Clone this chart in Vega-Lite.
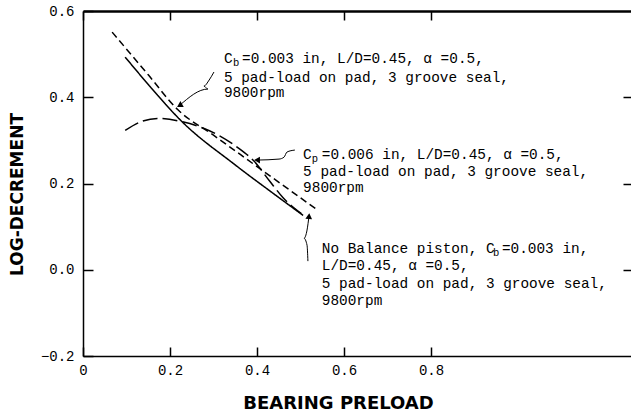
{
  "$schema": "https://vega.github.io/schema/vega-lite/v6.json",
  "width": 549,
  "height": 345,
  "autosize": {"type": "none"},
  "padding": {"left": 83, "top": 11, "right": 0, "bottom": 59},
  "background": "white",
  "config": {
    "view": {"stroke": null},
    "axis": {"grid": false, "domainColor": "black", "tickColor": "black", "labelColor": "black", "titleColor": "black", "domainWidth": 1.5, "tickWidth": 1.5}
  },
  "datasets": {
    "curves": [
      {"series": "solid", "x": 0.097, "y": 0.493},
      {"series": "solid", "x": 0.16, "y": 0.418},
      {"series": "solid", "x": 0.224, "y": 0.347},
      {"series": "solid", "x": 0.35, "y": 0.243},
      {"series": "solid", "x": 0.44, "y": 0.175},
      {"series": "solid", "x": 0.506, "y": 0.126},
      {"series": "short", "x": 0.067, "y": 0.551},
      {"series": "short", "x": 0.15, "y": 0.452},
      {"series": "short", "x": 0.217, "y": 0.372},
      {"series": "short", "x": 0.3, "y": 0.312},
      {"series": "short", "x": 0.41, "y": 0.232},
      {"series": "short", "x": 0.541, "y": 0.137},
      {"series": "long", "x": 0.097, "y": 0.323},
      {"series": "long", "x": 0.13, "y": 0.342},
      {"series": "long", "x": 0.171, "y": 0.351},
      {"series": "long", "x": 0.229, "y": 0.343},
      {"series": "long", "x": 0.277, "y": 0.328},
      {"series": "long", "x": 0.315, "y": 0.31},
      {"series": "long", "x": 0.355, "y": 0.284},
      {"series": "long", "x": 0.393, "y": 0.252},
      {"series": "long", "x": 0.428, "y": 0.207},
      {"series": "long", "x": 0.46, "y": 0.167},
      {"series": "long", "x": 0.502, "y": 0.13}
    ],
    "leaders": [
      {"lead": 1, "k": 1, "x": 0.301, "y": 0.4585},
      {"lead": 1, "k": 2, "x": 0.29, "y": 0.44},
      {"lead": 1, "k": 3, "x": 0.278, "y": 0.426},
      {"lead": 1, "k": 4, "x": 0.287, "y": 0.419},
      {"lead": 1, "k": 5, "x": 0.222, "y": 0.381},
      {"lead": 2, "k": 1, "x": 0.487, "y": 0.2775},
      {"lead": 2, "k": 2, "x": 0.469, "y": 0.273},
      {"lead": 2, "k": 3, "x": 0.462, "y": 0.261},
      {"lead": 2, "k": 4, "x": 0.4506, "y": 0.2566},
      {"lead": 2, "k": 5, "x": 0.4, "y": 0.2543},
      {"lead": 3, "k": 1, "x": 0.517, "y": 0.02},
      {"lead": 3, "k": 2, "x": 0.515, "y": 0.057},
      {"lead": 3, "k": 3, "x": 0.508, "y": 0.073},
      {"lead": 3, "k": 4, "x": 0.515, "y": 0.092},
      {"lead": 3, "k": 5, "x": 0.5195, "y": 0.1244}
    ],
    "heads": [
      {"lead": 1, "x": 0.222, "y": 0.381},
      {"lead": 2, "x": 0.4, "y": 0.2543},
      {"lead": 3, "x": 0.5195, "y": 0.1244}
    ],
    "notes": [
      {"x": 0.324, "y": 0.479, "t": "C"},
      {"x": 0.3655, "y": 0.479, "t": "=0.003 in, L/D=0.45, α =0.5,"},
      {"x": 0.324, "y": 0.435, "t": "5 pad-load on pad, 3 groove seal,"},
      {"x": 0.324, "y": 0.4, "t": "9800rpm"},
      {"x": 0.506, "y": 0.2566, "t": "C"},
      {"x": 0.549, "y": 0.2566, "t": "=0.006 in, L/D=0.45, α =0.5,"},
      {"x": 0.506, "y": 0.2172, "t": "5 pad-load on pad, 3 groove seal,"},
      {"x": 0.506, "y": 0.18, "t": "9800rpm"},
      {"x": 0.549, "y": 0.0385, "t": "No Balance piston, C"},
      {"x": 0.963, "y": 0.0385, "t": "=0.003 in,"},
      {"x": 0.549, "y": -0.001, "t": "L/D=0.45, α =0.5,"},
      {"x": 0.549, "y": -0.0427, "t": "5 pad-load on pad, 3 groove seal,"},
      {"x": 0.549, "y": -0.082, "t": "9800rpm"}
    ],
    "subs": [
      {"x": 0.345, "y": 0.479, "t": "b"},
      {"x": 0.526, "y": 0.2566, "t": "p"},
      {"x": 0.9425, "y": 0.0385, "t": "b"}
    ]
  },
  "resolve": {"scale": {"x": "shared", "y": "shared"}, "axis": {"x": "independent", "y": "independent"}},
  "layer": [
    {
      "data": {"name": "curves"},
      "mark": {"type": "line", "interpolate": "monotone", "strokeWidth": 1.5, "color": "black"},
      "encoding": {
        "x": {"field": "x", "type": "quantitative",
          "scale": {"domain": [0, 1.262], "nice": false, "zero": false},
          "axis": {"orient": "bottom", "values": [0, 0.2, 0.4, 0.6, 0.8], "tickSize": -9, "labelPadding": 16,
            "labelExpr": "datum.value == 0 ? '0' : format(datum.value, '.1f')",
            "labelFont": "Liberation Mono", "labelFontSize": 14, "labelFlush": false,
            "title": "BEARING PRELOAD", "titleFont": "DejaVu Sans", "titleFontWeight": "bold", "titleFontSize": 18,
            "titleX": 255, "titleY": 52, "titleAlign": "center", "titleBaseline": "alphabetic"}},
        "y": {"field": "y", "type": "quantitative",
          "scale": {"domain": [-0.2, 0.6], "nice": false, "zero": false},
          "axis": {"orient": "left", "values": [-0.2, 0, 0.2, 0.4, 0.6], "format": ".1f", "tickSize": -10, "labelPadding": 19,
            "labelFont": "Liberation Mono", "labelFontSize": 14, "labelFlush": false,
            "title": "LOG-DECREMENT", "titleFont": "DejaVu Sans", "titleFontWeight": "bold", "titleFontSize": 17,
            "titleX": -61, "titleY": 183, "titleAlign": "center", "titleBaseline": "alphabetic", "titleAngle": -90}},
        "strokeDash": {"field": "series", "type": "nominal",
          "scale": {"domain": ["solid", "short", "long"], "range": [[1, 0], [7, 4], [15, 5]]}, "legend": null}
      }
    },
    {
      "data": {"name": "leaders"},
      "mark": {"type": "line", "strokeWidth": 1, "color": "black", "interpolate": "monotone"},
      "encoding": {
        "x": {"field": "x", "type": "quantitative",
          "scale": {"domain": [0, 1.262], "nice": false, "zero": false},
          "axis": {"orient": "top", "values": [0, 0.2, 0.4, 0.6, 0.8], "tickSize": -9, "labels": false, "title": null, "domainWidth": 2.5}},
        "y": {"field": "y", "type": "quantitative",
          "scale": {"domain": [-0.2, 0.6], "nice": false, "zero": false},
          "axis": {"orient": "right", "values": [0, 0.2, 0.4], "tickSize": -9, "labels": false, "title": null, "domain": false}},
        "detail": {"field": "lead", "type": "nominal"},
        "order": {"field": "k", "type": "quantitative"}
      }
    },
    {
      "data": {"name": "heads"},
      "transform": [{"filter": "datum.lead == 1"}],
      "mark": {"type": "point", "shape": "triangle-up", "filled": true, "color": "black", "opacity": 1, "size": 45, "angle": 240},
      "encoding": {
        "x": {"field": "x", "type": "quantitative", "scale": {"domain": [0, 1.262], "nice": false, "zero": false}, "axis": null},
        "y": {"field": "y", "type": "quantitative", "scale": {"domain": [-0.2, 0.6], "nice": false, "zero": false}, "axis": null}
      }
    },
    {
      "data": {"name": "heads"},
      "transform": [{"filter": "datum.lead == 2"}],
      "mark": {"type": "point", "shape": "triangle-up", "filled": true, "color": "black", "opacity": 1, "size": 45, "angle": 270},
      "encoding": {
        "x": {"field": "x", "type": "quantitative", "scale": {"domain": [0, 1.262], "nice": false, "zero": false}, "axis": null},
        "y": {"field": "y", "type": "quantitative", "scale": {"domain": [-0.2, 0.6], "nice": false, "zero": false}, "axis": null}
      }
    },
    {
      "data": {"name": "heads"},
      "transform": [{"filter": "datum.lead == 3"}],
      "mark": {"type": "point", "shape": "triangle-up", "filled": true, "color": "black", "opacity": 1, "size": 45, "angle": 5},
      "encoding": {
        "x": {"field": "x", "type": "quantitative", "scale": {"domain": [0, 1.262], "nice": false, "zero": false}, "axis": null},
        "y": {"field": "y", "type": "quantitative", "scale": {"domain": [-0.2, 0.6], "nice": false, "zero": false}, "axis": null}
      }
    },
    {
      "data": {"name": "notes"},
      "mark": {"type": "text", "align": "left", "baseline": "alphabetic", "font": "Liberation Mono", "fontSize": 14.4, "color": "black"},
      "encoding": {
        "x": {"field": "x", "type": "quantitative", "scale": {"domain": [0, 1.262], "nice": false, "zero": false}, "axis": null},
        "y": {"field": "y", "type": "quantitative", "scale": {"domain": [-0.2, 0.6], "nice": false, "zero": false}, "axis": null},
        "text": {"field": "t", "type": "nominal"}
      }
    },
    {
      "data": {"name": "subs"},
      "mark": {"type": "text", "align": "left", "baseline": "alphabetic", "font": "Liberation Mono", "fontSize": 10.5, "dy": 3, "color": "black"},
      "encoding": {
        "x": {"field": "x", "type": "quantitative", "scale": {"domain": [0, 1.262], "nice": false, "zero": false}, "axis": null},
        "y": {"field": "y", "type": "quantitative", "scale": {"domain": [-0.2, 0.6], "nice": false, "zero": false}, "axis": null},
        "text": {"field": "t", "type": "nominal"}
      }
    }
  ]
}
